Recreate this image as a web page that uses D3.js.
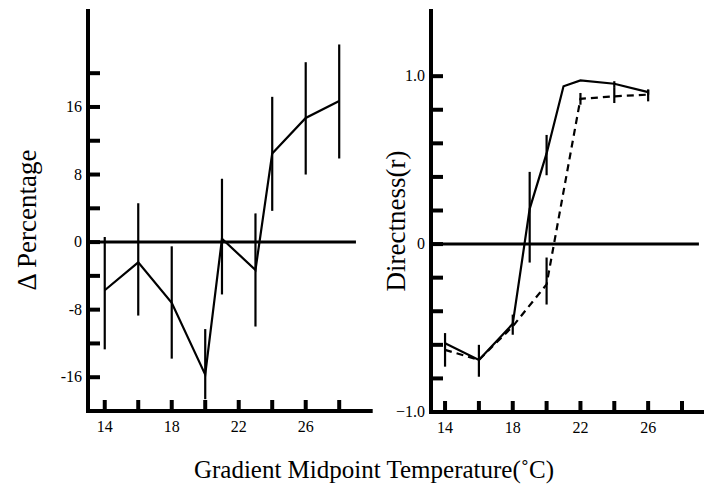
<!DOCTYPE html>
<html>
<head>
<meta charset="utf-8">
<script src="https://cdn.jsdelivr.net/npm/d3@7"></script>
<style>
  body { margin: 0; background: white; }
  svg { display: block; }
  text { font-family: "Liberation Serif", "Times New Roman", serif; fill: black; }
</style>
</head>
<body>
<div id="container"></div>
<script>
// left panel: change in percentage
let leftTemps = [14, 16, 18, 20, 21, 23, 24, 26, 28];
let leftMean  = [-5.7, -2.4, -7.2, -15.7, 0.4, -3.3, 10.5, 14.7, 16.7];
let leftHi    = [0.6, 4.6, -0.5, -10.3, 7.5, 3.4, 17.2, 21.3, 23.4];
let leftLo    = [-12.7, -8.7, -13.8, -18.6, -6.2, -10.0, 3.7, 8.0, 9.9];

// right panel: directness, solid series
let solidTemps = [14, 16, 18, 19, 20, 21, 22, 24, 26];
let solidMean  = [-0.59, -0.69, -0.475, 0.21, 0.54, 0.94, 0.975, 0.955, 0.905];
let solidHi    = [-0.53, -0.60, -0.42, 0.43, 0.65, null, null, 0.97, 0.92];
let solidLo    = [-0.73, -0.79, -0.54, -0.11, 0.41, null, null, 0.93, 0.89];

// right panel: dashed series
let dashTemps = [14, 16, 18, 20, 22, 24, 26];
let dashMean  = [-0.63, -0.69, -0.49, -0.24, 0.865, 0.88, 0.89];
let dashHi    = [null, null, null, -0.08, 0.90, 0.93, 0.92];
let dashLo    = [null, null, null, -0.36, 0.83, 0.84, 0.85];

let xTicks = [14, 16, 18, 20, 22, 24, 26, 28];
let xLabels = [14, 18, 22, 26];
let leftTicks = [-16, -12, -8, -4, 0, 4, 8, 12, 16, 20];
let leftLabels = [-16, -8, 0, 8, 16];
let rightTicks = [-0.8, -0.6, -0.4, -0.2, 0, 0.2, 0.4, 0.6, 0.8, 1.0];
let rightLabels = [-1.0, 0, 1.0];

let w = 705;
let h = 488;

let viz = d3.select("#container")
  .append("svg")
    .attr("width", w)
    .attr("height", h)
    .style("background-color", "white")
;

//scales
let xL = d3.scaleLinear().domain([13, 30]).range([88, 372.7]);
let yL = d3.scaleLinear().domain([-20, 27.6]).range([411, 9]);
let xR = d3.scaleLinear().domain([13.17, 29.3]).range([431, 704]);
let yR = d3.scaleLinear().domain([-1, 1.4]).range([412, 9]);

function fmtR(d) {
  if (d == 0) return "0";
  return d3.format(".1f")(d);
}

function drawPanel(x, y, yTicks, yLabels, fmt) {
  let g = viz.append("g");

  // bottom axis with inward ticks
  g.append("line")
    .attr("x1", x.range()[0] - 2).attr("x2", x.range()[1])
    .attr("y1", y.range()[0]).attr("y2", y.range()[0])
    .style("stroke", "black").style("stroke-width", 4);

  g.selectAll(".xt").data(xTicks).enter()
    .append("line")
      .attr("x1", d => x(d)).attr("x2", d => x(d))
      .attr("y1", y.range()[0]).attr("y2", y.range()[0] - 11)
      .style("stroke", "black").style("stroke-width", 4);

  g.selectAll(".xl").data(xLabels).enter()
    .append("text")
      .attr("x", d => x(d))
      .attr("y", y.range()[0] + 21)
      .attr("text-anchor", "middle")
      .style("font-size", "16px")
      .text(d => d);

  // left axis with inward ticks
  g.append("line")
    .attr("x1", x.range()[0]).attr("x2", x.range()[0])
    .attr("y1", y.range()[1]).attr("y2", y.range()[0] + 2)
    .style("stroke", "black").style("stroke-width", 4);

  g.selectAll(".yt").data(yTicks).enter()
    .append("line")
      .attr("x1", x.range()[0]).attr("x2", x.range()[0] + 12)
      .attr("y1", d => y(d)).attr("y2", d => y(d))
      .style("stroke", "black").style("stroke-width", 4);

  g.selectAll(".yl").data(yLabels).enter()
    .append("text")
      .attr("x", x.range()[0] - 6)
      .attr("y", d => y(d))
      .attr("dy", "0.33em")
      .attr("text-anchor", "end")
      .style("font-size", "16px")
      .text(fmt);

  // zero line
  g.append("line")
    .attr("x1", x.range()[0]).attr("x2", x(29))
    .attr("y1", y(0)).attr("y2", y(0))
    .style("stroke", "black").style("stroke-width", 3);

  return g;
}

function drawSeries(g, x, y, temps, mean, hi, lo, dash) {
  let pts = temps.map((t, i) => ({t: t, m: mean[i], hi: hi[i], lo: lo[i]}));

  let line = d3.line().x(d => x(d.t)).y(d => y(d.m));
  g.append("path")
    .datum(pts)
    .attr("d", line)
    .style("fill", "none")
    .style("stroke", "black")
    .style("stroke-width", 2.2)
    .style("stroke-dasharray", dash ? "7,5" : null);

  g.selectAll(null).data(pts.filter(d => d.hi != null)).enter()
    .append("line")
      .attr("x1", d => x(d.t)).attr("x2", d => x(d.t))
      .attr("y1", d => y(d.hi)).attr("y2", d => y(d.lo))
      .style("stroke", "black").style("stroke-width", 2.2);
}

let left = drawPanel(xL, yL, leftTicks, leftLabels, d => d);
drawSeries(left, xL, yL, leftTemps, leftMean, leftHi, leftLo, false);

let right = drawPanel(xR, yR, rightTicks, rightLabels, fmtR);
drawSeries(right, xR, yR, solidTemps, solidMean, solidHi, solidLo, false);
drawSeries(right, xR, yR, dashTemps, dashMean, dashHi, dashLo, true);

//axis titles
viz.append("text")
  .attr("transform", "translate(36, 220) rotate(-90)")
  .attr("text-anchor", "middle")
  .style("font-size", "27px")
  .text("\u0394 Percentage");

viz.append("text")
  .attr("transform", "translate(405, 221) rotate(-90)")
  .attr("text-anchor", "middle")
  .style("font-size", "27px")
  .text("Directness(r)");

viz.append("text")
  .attr("x", 374)
  .attr("y", 478)
  .attr("text-anchor", "middle")
  .style("font-size", "25px")
  .text("Gradient Midpoint Temperature(\u02DAC)");
</script>
</body>
</html>
